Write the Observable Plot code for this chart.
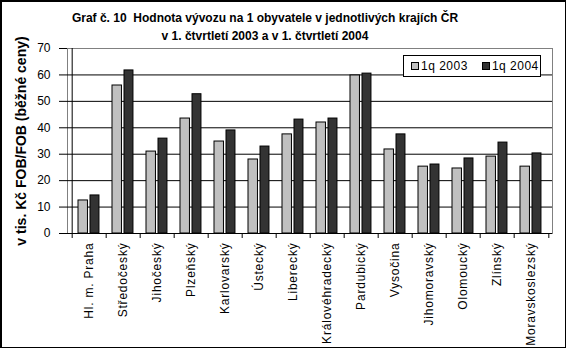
<!DOCTYPE html>
<html>
<head>
<meta charset="utf-8">
<script src="https://cdn.jsdelivr.net/npm/d3@7"></script>
<script src="https://cdn.jsdelivr.net/npm/@observablehq/plot@0.6"></script>
<style>
  html, body { margin: 0; padding: 0; background: #fff; }
  body { font-family: "Liberation Sans", Arial, sans-serif; }
  #wrap { position: relative; width: 568px; height: 351px; overflow: hidden; }
  #border { position: absolute; left: 0; top: 0; width: 566px; height: 348px; box-sizing: border-box; border: 2px solid #000; border-right-width: 1px; border-bottom-width: 1px; pointer-events: none; }
  #title { position: absolute; left: 65px; top: 10px; width: 400px; text-align: center; font-weight: bold; font-size: 12px; line-height: 17.5px; color: #000; }
  #legend { position: absolute; left: 403px; top: 55px; width: 138px; height: 22px; box-sizing: border-box; border: 1px solid #000; background: #fff; font-size: 12px; letter-spacing: 0.5px; display: flex; align-items: center; }
  #legend .sw { display: inline-block; width: 6px; height: 6px; border: 1px solid #000; margin-right: 2px; }
  #legend .item { display: flex; align-items: center; }
  #plot svg { position: absolute; left: 0; top: 0; }
  g[aria-label="x-axis tick label"] text { letter-spacing: 0.8px; }
  g[aria-label="y-axis label"] text { font-weight: bold; font-size: 14px; }
</style>
</head>
<body>
<div id="wrap">
  <div id="plot"></div>
  <div id="title">Graf č. 10&nbsp; Hodnota vývozu na 1 obyvatele v jednotlivých krajích ČR<br>v 1. čtvrtletí 2003 a v 1. čtvrtletí 2004</div>
  <div id="legend"></div>
  <div id="border"></div>
</div>
<script>
const regions = ["Hl. m. Praha", "Středočeský", "Jihočeský", "Plzeňský", "Karlovarský", "Ústecký", "Liberecký", "Královéhradecký", "Pardubický", "Vysočina", "Jihomoravský", "Olomoucký", "Zlínský", "Moravskoslezský"];
const v2003 = [12.5, 56.0, 31.0, 43.5, 34.8, 28.0, 37.5, 42.0, 59.8, 31.8, 25.3, 24.6, 29.1, 25.3];
const v2004 = [14.4, 61.7, 35.9, 52.7, 39.0, 32.9, 43.1, 43.5, 60.5, 37.5, 26.1, 28.4, 34.4, 30.3];
const seriesNames = ["1q 2003", "1q 2004"];
const seriesColors = ["#c0c0c0", "#333333"];
const yTicks = [0, 10, 20, 30, 40, 50, 60, 70];
const yLabel = "v tis. Kč FOB/FOB (běžné ceny)";

const W = 568, H = 351;
const mL = 67, mR = 16, mT = 48, mB = 118;
const step = (W - mL - mR) / regions.length;

const d03 = regions.map((r, i) => ({region: r, value: v2003[i]}));
const d04 = regions.map((r, i) => ({region: r, value: v2004[i]}));

const chart = Plot.plot({
  width: W, height: H,
  marginLeft: mL, marginRight: mR, marginTop: mT, marginBottom: mB,
  style: {fontFamily: "Liberation Sans, Arial, sans-serif", fontSize: "12px", color: "#000", background: "transparent", overflow: "visible"},
  x: {domain: regions, padding: 0, axis: null},
  y: {domain: [0, 70], axis: null},
  marks: [
    Plot.frame({stroke: "#808080"}),
    Plot.gridY(yTicks.filter(t => t > 0 && t < 70), {stroke: "#000", strokeOpacity: 1}),
    Plot.barY(d03, {x: "region", y: "value", fill: seriesColors[0], stroke: "#000", strokeWidth: 1, insetLeft: 6, insetRight: step - 16.1}),
    Plot.barY(d04, {x: "region", y: "value", fill: seriesColors[1], stroke: "#000", strokeWidth: 1, insetLeft: 18, insetRight: step - 27.6}),
    Plot.ruleY([0], {stroke: "#000"}),
    Plot.ruleX([regions[0]], {x: d => d, dx: -step / 2, y1: 0, y2: 70, stroke: "#000"}),
    Plot.ruleX(regions, {x: d => d, dx: -step / 2, y1: 0, y2: 0, insetBottom: -5, stroke: "#000"}),
    Plot.ruleX([regions[regions.length - 1]], {x: d => d, dx: step / 2, y1: 0, y2: 0, insetBottom: -5, stroke: "#000"}),
    Plot.axisY({ticks: yTicks, tickSize: 8, tickPadding: 9, label: yLabel, labelAnchor: "center", labelArrow: "none", labelOffset: 51}),
    Plot.axisX({tickSize: 0, tickPadding: 9, tickRotate: -90, label: null})
  ]
});
document.getElementById("plot").appendChild(chart);

const legend = document.getElementById("legend");
seriesNames.forEach((name, i) => {
  const item = document.createElement("span");
  item.className = "item";
  item.style.marginLeft = i === 0 ? "7px" : "14px";
  const sw = document.createElement("span");
  sw.className = "sw";
  sw.style.background = seriesColors[i];
  item.appendChild(sw);
  item.appendChild(document.createTextNode(name));
  legend.appendChild(item);
});
</script>
</body>
</html>
